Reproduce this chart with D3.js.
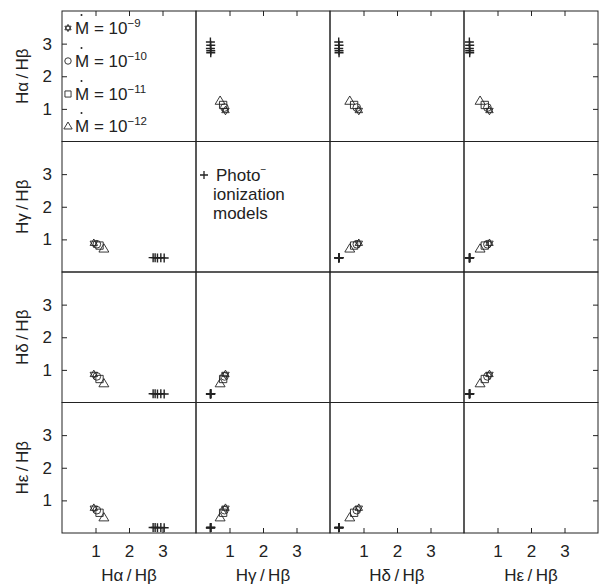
<!DOCTYPE html>
<html><head><meta charset="utf-8">
<script src="https://cdn.jsdelivr.net/npm/d3@7"></script>
<style>body{margin:0;background:#fff}svg{display:block}text{font-family:"Liberation Sans",Arial,sans-serif;fill:#222}</style>
</head><body><svg id="c" width="600" height="586"></svg>
<script>
// Variables (ratio to Hβ)
const varNames = ["Hα", "Hγ", "Hδ", "Hε"];
const tickValues = [1, 2, 3];
// Accretion-rate models: exponents and symbol
const modelExp = ["−9", "−10", "−11", "−12"];
const modelSym = ["star", "circle", "square", "triangle"];
const modelHa = [0.95, 1.04, 1.12, 1.25];
const modelHg = [0.88, 0.85, 0.81, 0.72];
const modelHd = [0.86, 0.80, 0.72, 0.59];
const modelHe = [0.76, 0.70, 0.62, 0.48];
// Photoionization models
const photoHa = [2.72, 2.78, 2.85, 2.95, 3.05];
const photoHg = [0.44, 0.44, 0.43, 0.44, 0.43];
const photoHd = [0.27, 0.27, 0.26, 0.27, 0.26];
const photoHe = [0.17, 0.17, 0.16, 0.17, 0.16];

const models = [modelHa, modelHg, modelHd, modelHe];
const photos = [photoHa, photoHg, photoHd, photoHe];

const svg = d3.select("#c");
const L = 62, T = 11, PW = 134, PH = 130.5, N = 4;
const ink = "#222";

function xs(j){ return d3.scaleLinear().domain([0,4]).range([L + j*PW, L + (j+1)*PW]); }
function ys(i){ return d3.scaleLinear().domain([0,4]).range([T + (i+1)*PH, T + i*PH]); }

function symPath(type, r){
  if(type==="star"){
    const p=[];
    for(const off of [-Math.PI/2, Math.PI/2]){
      const pts=[0,1,2].map(k=>{const a=off+k*2*Math.PI/3;return [r*Math.cos(a), r*Math.sin(a)];});
      p.push("M"+pts.map(q=>q.join(",")).join("L")+"Z");
    }
    return p.join("");
  }
  if(type==="circle") return d3.symbol(d3.symbolCircle, Math.PI*r*r*0.8)();
  if(type==="square") return d3.symbol(d3.symbolSquare, (r*1.7)*(r*1.7))();
  if(type==="triangle"){
    const h=r*1.1; return `M0,${-h}L${h*1.05},${h*0.75}L${-h*1.05},${h*0.75}Z`;
  }
  if(type==="plus") return `M${-r},0H${r}M0,${-r}V${r}`;
}

const g = svg.append("g");
// panel frames
for(let i=0;i<N;i++) for(let j=0;j<N;j++){
  g.append("rect").attr("x",L+j*PW).attr("y",T+i*PH).attr("width",PW).attr("height",PH)
    .attr("fill","none").attr("stroke",ink).attr("stroke-width",1);
}
// axes ticks (inward) on outer edges
for(let j=0;j<N;j++){
  const x=xs(j);
  const bottom = svg.append("g").attr("transform",`translate(0,${T+N*PH})`)
    .call(d3.axisBottom(x).tickValues(tickValues).tickSizeInner(-5).tickSizeOuter(0).tickPadding(12).tickFormat(d3.format("d")));
  bottom.select(".domain").remove();
  const top = svg.append("g").attr("transform",`translate(0,${T})`)
    .call(d3.axisTop(x).tickValues(tickValues).tickSizeInner(-5).tickSizeOuter(0).tickFormat(""));
  top.select(".domain").remove();
}
for(let i=0;i<N;i++){
  const y=ys(i);
  const left = svg.append("g").attr("transform",`translate(${L},0)`)
    .call(d3.axisLeft(y).tickValues(tickValues).tickSizeInner(-5).tickSizeOuter(0).tickPadding(10).tickFormat(d3.format("d")));
  left.select(".domain").remove();
  const right = svg.append("g").attr("transform",`translate(${L+N*PW},0)`)
    .call(d3.axisRight(y).tickValues(tickValues).tickSizeInner(-5).tickSizeOuter(0).tickFormat(""));
  right.select(".domain").remove();
}
svg.selectAll(".tick line").attr("stroke",ink);
svg.selectAll(".tick text").attr("font-size",17).attr("fill",ink).style("font-family","'Liberation Sans',Arial,sans-serif");

// axis titles
varNames.forEach((v,k)=>{
  svg.append("text").attr("x",L+(k+0.5)*PW).attr("y",581).attr("text-anchor","middle")
    .attr("font-size",17).text(v+"\u2009/\u2009Hβ");
  svg.append("text").attr("transform",`translate(28,${T+(k+0.5)*PH}) rotate(-90)`).attr("text-anchor","middle")
    .attr("font-size",17).text(v+"\u2009/\u2009Hβ");
});

// data
for(let i=0;i<N;i++) for(let j=0;j<N;j++){
  if(i===j) continue;
  const x=xs(j), y=ys(i);
  const pg = svg.append("g");
  photos[j].forEach((xv,k)=>{
    pg.append("path").attr("d",symPath("plus",4.5)).attr("transform",`translate(${x(xv)},${y(photos[i][k])})`)
      .attr("fill","none").attr("stroke",ink).attr("stroke-width",1.4);
  });
  for(let m=modelSym.length-1;m>=0;m--){
    pg.append("path").attr("d",symPath(modelSym[m],4.3)).attr("transform",`translate(${x(models[j][m])},${y(models[i][m])})`)
      .attr("fill","none").attr("stroke",ink).attr("stroke-width",0.9);
  }
}

// legend in panel (0,0)
const legY=[28,61,94,126];
modelSym.forEach((s,m)=>{
  svg.append("path").attr("d",symPath(s,3.6)).attr("transform",`translate(68,${legY[m]})`)
    .attr("fill","none").attr("stroke",ink).attr("stroke-width",0.9);
  const t=svg.append("text").attr("x",75).attr("y",legY[m]+6).attr("font-size",17);
  t.append("tspan").text("M = 10");
  t.append("tspan").attr("dy",-7).attr("font-size",11.5).text(modelExp[m]);
  svg.append("circle").attr("cx",81.5).attr("cy",legY[m]-13).attr("r",1).attr("fill",ink);
});
// photoionization legend in panel (1,1)
svg.append("path").attr("d",symPath("plus",4)).attr("transform","translate(204,175)")
  .attr("fill","none").attr("stroke",ink).attr("stroke-width",1.3);
const pt=svg.append("text").attr("x",216).attr("y",181).attr("font-size",17);
pt.append("tspan").text("Photo");
pt.append("tspan").attr("dy",-8).attr("font-size",10).text("−");
svg.append("text").attr("x",213).attr("y",200).attr("font-size",17).text("ionization");
svg.append("text").attr("x",213).attr("y",219).attr("font-size",17).text("models");
</script></body></html>
